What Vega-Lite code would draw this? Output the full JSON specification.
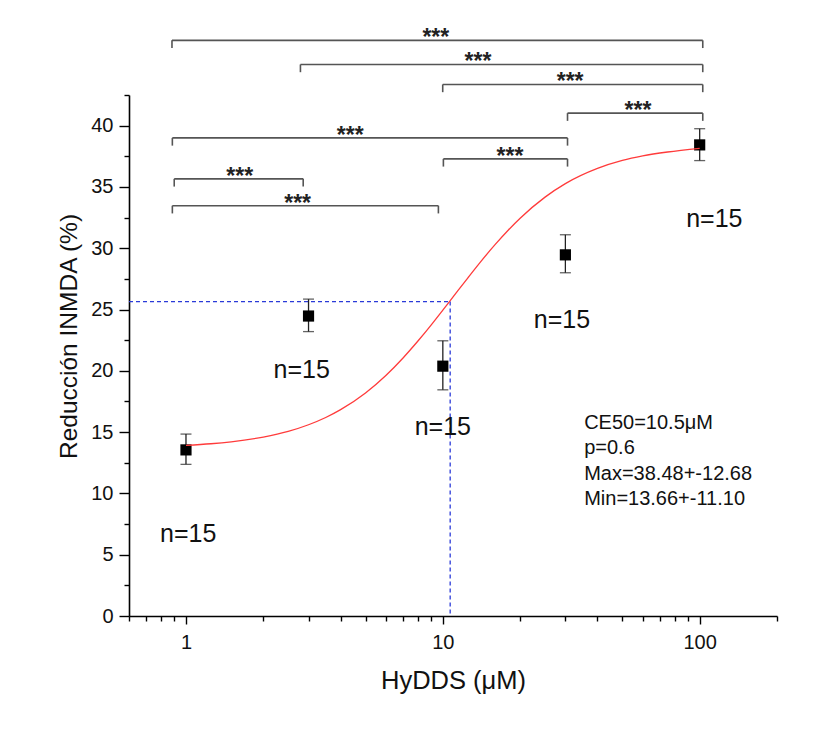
{
  "$schema": "https://vega.github.io/schema/vega-lite/v6.json",
  "width": 648,
  "height": 521,
  "autosize": {"type": "none"},
  "padding": {"left": 129, "top": 95, "right": 57, "bottom": 122},
  "background": "white",
  "config": {
    "view": {"stroke": null},
    "font": "Liberation Sans",
    "axis": {
      "labelFont": "Liberation Sans",
      "titleFont": "Liberation Sans",
      "labelColor": "#111111",
      "titleColor": "#111111",
      "titleFontWeight": "normal",
      "domainColor": "#000000",
      "tickColor": "#000000",
      "domainWidth": 1.6,
      "tickWidth": 1.4,
      "grid": false
    }
  },
  "datasets": {
    "pts": [
      {"x": 1, "y": 13.55, "lo": 12.37, "hi": 14.84},
      {"x": 3, "y": 24.47, "lo": 23.2, "hi": 25.85},
      {"x": 10, "y": 20.38, "lo": 18.45, "hi": 22.45},
      {"x": 30, "y": 29.46, "lo": 28.0, "hi": 31.1},
      {"x": 100, "y": 38.43, "lo": 37.15, "hi": 39.75}
    ],
    "curve": [
      {"x": 1, "y": 13.92},
      {"x": 1.25, "y": 14.05},
      {"x": 1.5, "y": 14.21},
      {"x": 2, "y": 14.6},
      {"x": 2.5, "y": 15.06},
      {"x": 3, "y": 15.6},
      {"x": 3.5, "y": 16.19},
      {"x": 4, "y": 16.83},
      {"x": 5, "y": 18.19},
      {"x": 6, "y": 19.62},
      {"x": 7, "y": 21.05},
      {"x": 8, "y": 22.43},
      {"x": 9, "y": 23.73},
      {"x": 10, "y": 24.95},
      {"x": 11, "y": 26.07},
      {"x": 12.5, "y": 27.57},
      {"x": 14, "y": 28.87},
      {"x": 16, "y": 30.31},
      {"x": 18, "y": 31.49},
      {"x": 20, "y": 32.45},
      {"x": 25, "y": 34.17},
      {"x": 30, "y": 35.27},
      {"x": 40, "y": 36.51},
      {"x": 50, "y": 37.16},
      {"x": 60, "y": 37.53},
      {"x": 75, "y": 37.85},
      {"x": 100, "y": 38.15}
    ],
    "dash": [
      {"x": 0.6, "x2": 10.68, "y": 25.65, "y2": 25.65},
      {"x": 10.68, "x2": 10.68, "y": 25.65, "y2": 0}
    ],
    "segs": [
      {"x": 0.882, "x2": 102.8, "y": 46.96, "y2": 46.96},
      {"x": 0.882, "x2": 0.882, "y": 46.96, "y2": 46.33},
      {"x": 102.8, "x2": 102.8, "y": 46.96, "y2": 46.33},
      {"x": 2.79, "x2": 102.8, "y": 44.99, "y2": 44.99},
      {"x": 2.79, "x2": 2.79, "y": 44.99, "y2": 44.36},
      {"x": 102.8, "x2": 102.8, "y": 44.99, "y2": 44.36},
      {"x": 9.99, "x2": 102.8, "y": 43.36, "y2": 43.36},
      {"x": 9.99, "x2": 9.99, "y": 43.36, "y2": 42.73},
      {"x": 102.8, "x2": 102.8, "y": 43.36, "y2": 42.73},
      {"x": 30.58, "x2": 102.8, "y": 41.02, "y2": 41.02},
      {"x": 30.58, "x2": 30.58, "y": 41.02, "y2": 40.39},
      {"x": 102.8, "x2": 102.8, "y": 41.02, "y2": 40.39},
      {"x": 0.885, "x2": 30.58, "y": 39.0, "y2": 39.0},
      {"x": 0.885, "x2": 0.885, "y": 39.0, "y2": 38.37},
      {"x": 30.58, "x2": 30.58, "y": 39.0, "y2": 38.37},
      {"x": 10.05, "x2": 30.58, "y": 37.29, "y2": 37.29},
      {"x": 10.05, "x2": 10.05, "y": 37.29, "y2": 36.66},
      {"x": 30.58, "x2": 30.58, "y": 37.29, "y2": 36.66},
      {"x": 0.9, "x2": 2.86, "y": 35.66, "y2": 35.66},
      {"x": 0.9, "x2": 0.9, "y": 35.66, "y2": 35.03},
      {"x": 2.86, "x2": 2.86, "y": 35.66, "y2": 35.03},
      {"x": 0.885, "x2": 9.61, "y": 33.47, "y2": 33.47},
      {"x": 0.885, "x2": 0.885, "y": 33.47, "y2": 32.84},
      {"x": 9.61, "x2": 9.61, "y": 33.47, "y2": 32.84}
    ],
    "stars": [
      {"x": 9.39, "y": 46.96, "t": "***"},
      {"x": 13.7, "y": 44.99, "t": "***"},
      {"x": 31.3, "y": 43.36, "t": "***"},
      {"x": 57.5, "y": 41.02, "t": "***"},
      {"x": 4.36, "y": 39.0, "t": "***"},
      {"x": 18.25, "y": 37.29, "t": "***"},
      {"x": 1.62, "y": 35.66, "t": "***"},
      {"x": 2.72, "y": 33.47, "t": "***"}
    ],
    "nlab": [
      {"x": 1.02, "y": 6.0, "t": "n=15"},
      {"x": 2.82, "y": 19.39, "t": "n=15"},
      {"x": 10.0, "y": 14.75, "t": "n=15"},
      {"x": 29.1, "y": 23.5, "t": "n=15"},
      {"x": 114, "y": 31.7, "t": "n=15"}
    ],
    "stats": [
      {"x": 35.5, "y": 15.27, "t": "CE50=10.5μM"},
      {"x": 35.5, "y": 13.2, "t": "p=0.6"},
      {"x": 35.5, "y": 11.1, "t": "Max=38.48+-12.68"},
      {"x": 35.5, "y": 9.05, "t": "Min=13.66+-11.10"}
    ]
  },
  "resolve": {"axis": {"x": "independent", "y": "independent"}},
  "layer": [
    {
      "data": {"name": "pts"},
      "mark": {"type": "point", "opacity": 0},
      "encoding": {
        "x": {"field": "x", "type": "quantitative", "scale": {"type": "log", "domain": [0.6, 200], "nice": false},
          "axis": {"orient": "bottom", "values": [1, 10, 100], "format": "d", "tickSize": 8, "labelPadding": 8, "labelFontSize": 20, "title": "HyDDS (μM)", "titleFontSize": 25.5, "titlePadding": 16}},
        "y": {"field": "y", "type": "quantitative", "scale": {"domain": [0, 42.5], "nice": false, "zero": false},
          "axis": {"orient": "left", "values": [0, 5, 10, 15, 20, 25, 30, 35, 40], "format": "d", "tickSize": 10, "labelPadding": 6, "labelFontSize": 20, "title": "Reducción INMDA (%)", "titleFontSize": 24.5, "titlePadding": 9, "titleY": 241}}
      }
    },
    {
      "data": {"name": "pts"},
      "mark": {"type": "point", "opacity": 0},
      "encoding": {
        "x": {"field": "x", "type": "quantitative", "scale": {"type": "log", "domain": [0.6, 200], "nice": false},
          "axis": {"orient": "bottom", "values": [0.6, 0.7, 0.8, 0.9, 2, 3, 4, 5, 6, 7, 8, 9, 20, 30, 40, 50, 60, 70, 80, 90, 200], "labels": false, "domain": false, "tickSize": 5, "title": null}},
        "y": {"field": "y", "type": "quantitative", "scale": {"domain": [0, 42.5], "nice": false, "zero": false},
          "axis": {"orient": "left", "values": [2.5, 7.5, 12.5, 17.5, 22.5, 27.5, 32.5, 37.5, 42.5], "labels": false, "domain": false, "tickSize": 5, "title": null}}
      }
    },
    {
      "data": {"name": "dash"},
      "mark": {"type": "rule", "color": "#2a3ad8", "strokeWidth": 1.3, "strokeDash": [4, 3]},
      "encoding": {
        "x": {"field": "x", "type": "quantitative", "scale": {"type": "log", "domain": [0.6, 200], "nice": false}, "axis": null},
        "x2": {"field": "x2"},
        "y": {"field": "y", "type": "quantitative", "scale": {"domain": [0, 42.5], "nice": false, "zero": false}, "axis": null},
        "y2": {"field": "y2"}
      }
    },
    {
      "data": {"name": "segs"},
      "mark": {"type": "rule", "color": "#555555", "strokeWidth": 1.6},
      "encoding": {
        "x": {"field": "x", "type": "quantitative", "scale": {"type": "log", "domain": [0.6, 200], "nice": false}, "axis": null},
        "x2": {"field": "x2"},
        "y": {"field": "y", "type": "quantitative", "scale": {"domain": [0, 42.5], "nice": false, "zero": false}, "axis": null},
        "y2": {"field": "y2"}
      }
    },
    {
      "data": {"name": "stars"},
      "mark": {"type": "text", "fontSize": 23, "fontWeight": "bold", "color": "#222222", "align": "center", "baseline": "alphabetic", "dy": 5},
      "encoding": {
        "x": {"field": "x", "type": "quantitative", "scale": {"type": "log", "domain": [0.6, 200], "nice": false}, "axis": null},
        "y": {"field": "y", "type": "quantitative", "scale": {"domain": [0, 42.5], "nice": false, "zero": false}, "axis": null},
        "text": {"field": "t"}
      }
    },
    {
      "data": {"name": "pts"},
      "mark": {"type": "rule", "color": "#222222", "strokeWidth": 1.3},
      "encoding": {
        "x": {"field": "x", "type": "quantitative", "scale": {"type": "log", "domain": [0.6, 200], "nice": false}, "axis": null},
        "y": {"field": "lo", "type": "quantitative", "scale": {"domain": [0, 42.5], "nice": false, "zero": false}, "axis": null},
        "y2": {"field": "hi"}
      }
    },
    {
      "data": {"name": "pts"},
      "mark": {"type": "tick", "orient": "horizontal", "color": "#222222", "size": 11, "thickness": 1.3},
      "encoding": {
        "x": {"field": "x", "type": "quantitative", "scale": {"type": "log", "domain": [0.6, 200], "nice": false}, "axis": null},
        "y": {"field": "lo", "type": "quantitative", "scale": {"domain": [0, 42.5], "nice": false, "zero": false}, "axis": null}
      }
    },
    {
      "data": {"name": "pts"},
      "mark": {"type": "tick", "orient": "horizontal", "color": "#222222", "size": 11, "thickness": 1.3},
      "encoding": {
        "x": {"field": "x", "type": "quantitative", "scale": {"type": "log", "domain": [0.6, 200], "nice": false}, "axis": null},
        "y": {"field": "hi", "type": "quantitative", "scale": {"domain": [0, 42.5], "nice": false, "zero": false}, "axis": null}
      }
    },
    {
      "data": {"name": "pts"},
      "mark": {"type": "square", "size": 125, "color": "#000000", "opacity": 1, "filled": true},
      "encoding": {
        "x": {"field": "x", "type": "quantitative", "scale": {"type": "log", "domain": [0.6, 200], "nice": false}, "axis": null},
        "y": {"field": "y", "type": "quantitative", "scale": {"domain": [0, 42.5], "nice": false, "zero": false}, "axis": null}
      }
    },
    {
      "data": {"name": "curve"},
      "mark": {"type": "line", "color": "#ff3b3b", "strokeWidth": 1.3, "interpolate": "monotone"},
      "encoding": {
        "x": {"field": "x", "type": "quantitative", "scale": {"type": "log", "domain": [0.6, 200], "nice": false}, "axis": null},
        "y": {"field": "y", "type": "quantitative", "scale": {"domain": [0, 42.5], "nice": false, "zero": false}, "axis": null}
      }
    },
    {
      "data": {"name": "nlab"},
      "mark": {"type": "text", "fontSize": 25, "color": "#111111", "align": "center", "baseline": "alphabetic"},
      "encoding": {
        "x": {"field": "x", "type": "quantitative", "scale": {"type": "log", "domain": [0.6, 200], "nice": false}, "axis": null},
        "y": {"field": "y", "type": "quantitative", "scale": {"domain": [0, 42.5], "nice": false, "zero": false}, "axis": null},
        "text": {"field": "t"}
      }
    },
    {
      "data": {"name": "stats"},
      "mark": {"type": "text", "fontSize": 20, "color": "#111111", "align": "left", "baseline": "alphabetic"},
      "encoding": {
        "x": {"field": "x", "type": "quantitative", "scale": {"type": "log", "domain": [0.6, 200], "nice": false}, "axis": null},
        "y": {"field": "y", "type": "quantitative", "scale": {"domain": [0, 42.5], "nice": false, "zero": false}, "axis": null},
        "text": {"field": "t"}
      }
    }
  ]
}
